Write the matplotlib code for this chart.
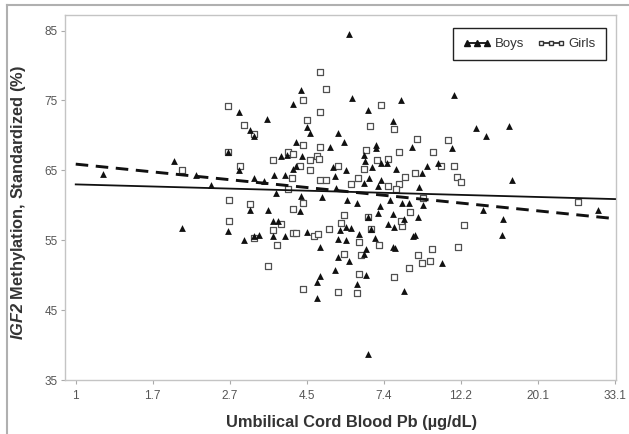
import numpy as np
import matplotlib
matplotlib.use("Agg")
import matplotlib.pyplot as plt
from matplotlib.lines import Line2D

# ---- data (x = natural log of cord blood Pb, y = IGF2 methylation %) ----
boys_ln_pb = [0.18, 0.64, 0.69, 0.78, 0.875, 0.99, 0.99,
              1.46, 1.41, 1.06, 1.24, 1.13, 1.16, 1.50, 1.52, 1.70, 1.74, 1.43, 1.65, 1.335,
              1.37, 1.47, 1.41, 1.43, 1.67, 1.685, 1.756, 1.29, 1.36, 1.225, 1.16, 1.06,
              1.46, 1.60, 1.69, 1.30,
              1.79, 2.11, 2.456, 1.90, 2.06, 2.60, 1.95, 1.95, 1.87, 2.18, 2.44, 1.88, 1.92,
              1.98, 2.02, 2.08, 2.28, 2.35, 2.245, 1.905, 1.98, 1.87, 1.96, 2.23,
              1.761, 1.826, 2.037, 2.117, 2.16, 2.253, 1.977, 1.959, 2.056, 2.128, 2.224,
              1.894, 2.024, 2.063, 1.754, 1.787, 1.916, 1.841, 1.942, 2.186, 2.20, 1.754,
              2.056, 2.07, 1.884, 1.87, 1.776, 2.38, 1.884, 1.826, 2.132,
              1.128, 1.246, 1.458, 1.279, 1.311, 1.095, 1.16, 1.192, 1.279, 1.359, 1.502,
              1.588, 1.70, 1.70, 1.683, 1.588, 1.566, 1.566, 1.717,
              2.644, 2.776, 2.765, 3.391, 2.813, 2.662, 2.834,
              1.771, 1.899]
boys_igf2 = [64.5, 66.4, 56.7, 64.3, 62.9, 56.4, 67.7,
             76.5, 74.5, 73.4, 72.4, 70.8, 69.9, 71.2, 70.4, 70.4, 69.0, 69.1, 68.4, 67.1,
             67.2, 67.1, 65.2, 65.7, 65.5, 64.2, 65.1, 64.4, 64.4, 63.5, 63.9, 65.1,
             61.4, 61.2, 62.5, 61.7,
             75.3, 75.0, 75.8, 73.7, 72.0, 71.1, 68.7, 68.2, 67.2, 68.3, 68.2, 66.3, 65.5,
             66.1, 66.1, 65.2, 65.7, 66.1, 64.7, 63.9, 63.7, 63.2, 62.7, 62.6,
             60.8, 60.3, 60.8, 60.3, 60.3, 60.1, 59.9, 58.9, 58.8, 58.0, 58.3,
             58.4, 57.3, 56.9, 56.9, 56.8, 56.6, 55.9, 55.3, 55.6, 55.7, 55.1,
             54.1, 53.9, 53.7, 53.1, 52.0, 51.8, 50.0, 48.7, 47.8,
             59.4, 59.4, 59.2, 57.7, 57.8, 55.0, 55.6, 55.8, 55.6, 55.6, 56.2,
             54.1, 55.2, 52.6, 50.7, 49.9, 49.1, 46.8, 56.5,
             59.3, 58.0, 55.7, 59.4, 71.3, 69.9, 63.7,
             84.5, 38.8]

girls_ln_pb = [0.69, 0.987, 1.09, 1.16, 0.987, 1.063, 0.994, 1.128, 0.994, 1.156,
               1.583, 1.625, 1.473, 1.583, 1.50, 1.38, 1.408, 1.473, 1.586, 1.566, 1.58,
               1.279, 1.523, 1.458, 1.523, 1.70, 1.404, 1.588, 1.625, 1.38,
               1.981, 1.912, 2.063, 2.214, 2.413, 1.884, 2.10, 2.316, 1.955, 2.024, 2.37,
               2.452, 1.87, 2.137, 2.203, 2.474, 2.50, 1.83, 1.787, 2.10, 2.024, 2.078,
               1.408, 1.473, 1.279, 1.333, 1.408, 1.43, 1.549, 1.57, 1.646, 1.307, 1.246,
               1.473, 1.70, 1.739, 1.722, 1.739,
               2.171, 2.115, 2.11, 2.521, 1.899, 1.916, 1.841, 1.97, 1.852, 2.309, 2.478,
               2.224, 2.245, 2.301, 2.16, 2.063, 1.836, 1.826, 2.253, 3.262]
girls_igf2 = [65.1, 74.2, 71.5, 70.2, 67.7, 65.7, 60.8, 60.2, 57.8, 55.3,
              79.1, 76.7, 75.1, 73.3, 72.2, 67.7, 67.3, 68.7, 68.3, 67.0, 66.6,
              66.5, 66.5, 65.7, 65.1, 65.7, 63.9, 63.7, 63.6, 62.3,
              74.4, 71.4, 70.9, 69.5, 69.4, 67.9, 67.6, 67.6, 66.5, 66.6, 65.7,
              65.7, 65.2, 64.1, 64.7, 64.1, 63.3, 63.9, 63.1, 63.0, 62.7, 62.3,
              59.5, 60.3, 56.5, 57.3, 56.1, 56.0, 55.6, 55.9, 56.6, 54.3, 51.4,
              48.1, 47.6, 58.6, 57.5, 53.1,
              59.1, 57.0, 57.7, 57.2, 58.3, 56.6, 54.8, 54.3, 52.9, 53.7, 54.1,
              52.9, 51.8, 52.0, 51.1, 49.7, 50.2, 47.4, 61.1, 60.5]

# regression lines (endpoints at Pb = 1 and Pb = 33.1)
fit_ln_pb = [0.0, 3.5]
boys_fit = [63.0, 60.9]
girls_fit = [65.9, 58.1]

x_tick_ln = [0.0, 0.5, 1.0, 1.5, 2.0, 2.5, 3.0, 3.5]
x_tick_labels = ["1", "1.7", "2.7", "4.5", "7.4", "12.2", "20.1", "33.1"]
y_ticks = [35, 45, 55, 65, 75, 85]

# ---- style ----
plt.rcParams['font.family'] = ['Liberation Sans', 'DejaVu Sans']
plt.rcParams['mathtext.fontset'] = 'custom'
plt.rcParams['mathtext.it'] = 'Liberation Sans:italic:bold'
plt.rcParams['mathtext.rm'] = 'Liberation Sans:italic:bold'
plt.rcParams['mathtext.bf'] = 'Liberation Sans:italic:bold'

fig = plt.figure(figsize=(6.29, 4.34), dpi=100)
fig.patch.set_facecolor('white')
ax = fig.add_axes([0.103, 0.124, 0.876, 0.841])

ax.scatter(girls_ln_pb, girls_igf2, marker='s', s=21, facecolors='white',
           edgecolors='#505050', linewidths=0.9, zorder=2)
ax.scatter(boys_ln_pb, boys_igf2, marker='^', s=24, color='#111111',
           linewidths=0, zorder=3)

ax.plot(fit_ln_pb, boys_fit, color='#111111', lw=1.3, zorder=4)
ax.plot(fit_ln_pb, girls_fit, color='#111111', lw=2.1, dashes=(4.3, 2.6), zorder=4)

ax.set_xlim(-0.071, 3.505)
ax.set_ylim(35, 87.2)
ax.set_xticks(x_tick_ln)
ax.set_xticklabels(x_tick_labels)
ax.set_yticks(y_ticks)

for sp in ax.spines.values():
    sp.set_color('#c4c4c4')
    sp.set_linewidth(1.0)
ax.tick_params(direction='out', length=3, width=0.8, color='#aaaaaa',
               labelcolor='#555555', labelsize=8.5)
ax.tick_params(axis='y', pad=2)
ax.tick_params(axis='x', pad=4)

ax.set_xlabel('Umbilical Cord Blood Pb (\u00b5g/dL)', fontsize=11.8,
              fontweight='bold', color='#333333')
ax.xaxis.set_label_coords(0.521, -0.096)
ax.set_ylabel(r'$\mathit{IGF2}$ Methylation, Standardized (%)', fontsize=11.8,
              fontweight='bold', color='#333333')
ax.yaxis.set_label_coords(-0.066, 0.487)

handles = [Line2D([], [], color='#111111', lw=1.3, marker='^', markersize=4),
           Line2D([], [], color='#333333', lw=1.3, marker='s', markersize=3.5,
                  markerfacecolor='white', markeredgecolor='#333333')]
leg = ax.legend(handles, ['Boys', 'Girls'], loc='upper right', ncol=2,
                bbox_to_anchor=(0.982, 0.964), borderaxespad=0, numpoints=3,
                fontsize=9.5, frameon=True, fancybox=False, framealpha=1,
                edgecolor='#222222', handlelength=2.1, handletextpad=0.3,
                columnspacing=1.0, borderpad=0.75)
leg.get_frame().set_linewidth(1.0)
for t in leg.get_texts():
    t.set_color('#333333')

# outer border (top and left) of the original framed figure
fig.add_artist(Line2D([7/629, 1.0], [1 - 5/434, 1 - 5/434], transform=fig.transFigure,
                      color='#b0b0b0', lw=1.5))
fig.add_artist(Line2D([7/629, 7/629], [0.0, 1 - 5/434], transform=fig.transFigure,
                      color='#b0b0b0', lw=1.5))

fig.savefig('out.png', dpi=100)
